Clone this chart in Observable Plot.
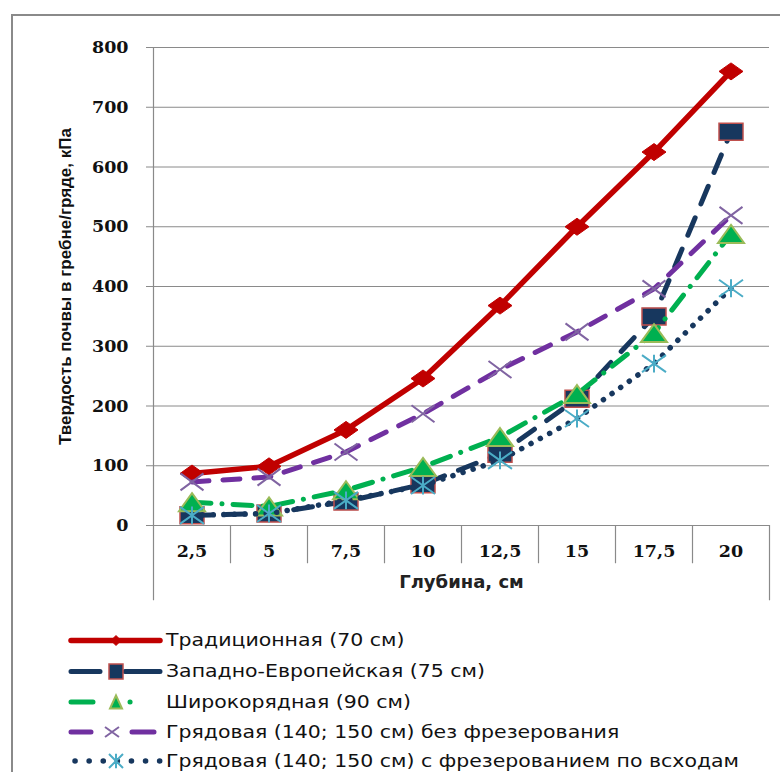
<!DOCTYPE html>
<html>
<head>
<meta charset="utf-8">
<script src="https://cdn.jsdelivr.net/npm/d3@7"></script>
<script src="https://cdn.jsdelivr.net/npm/@observablehq/plot@0.6"></script>
<style>
  html, body { margin: 0; padding: 0; background: #fff; }
  #wrap { position: relative; width: 780px; height: 772px; overflow: hidden; }
  #chart { position: absolute; left: 0; top: 0; }
  #legend { position: absolute; left: 0; top: 610px; }
  #frame { position: absolute; left: 11px; top: 14px; width: 780px; height: 800px;
           border-left: 2px solid #8a8a8a; border-top: 2px solid #8a8a8a; pointer-events: none; }
</style>
</head>
<body>
<div id="wrap">
  <div id="chart"></div>
  <div id="legend"></div>
  <div id="frame"></div>
</div>
<script>
// ---- data ----
const depths = ["2,5", "5", "7,5", "10", "12,5", "15", "17,5", "20"];
const traditional  = [87, 99, 160, 246, 368, 500, 625, 760];
const westEuropean = [17, 20, 40, 69, 120, 212, 350, 659];
const wideRow      = [39, 32, 59, 98, 148, 220, 322, 488];
const bedNoMill    = [73, 81, 123, 187, 261, 324, 396, 519];
const bedMill      = [17, 20, 42, 67, 109, 179, 271, 397];
const seriesNames = [
  "Традиционная (70 см)",
  "Западно-Европейская (75 см)",
  "Широкорядная (90 см)",
  "Грядовая (140; 150 см) без фрезерования",
  "Грядовая (140; 150 см) с фрезерованием по всходам"
];
const yTicks = [0, 100, 200, 300, 400, 500, 600, 700, 800];
const yTitle = "Твердость почвы в гребне/гряде, кПа";
const xTitle = "Глубина, см";

// ---- custom (wide) marker symbols ----
function symDiamond(hw, hh) { return { draw(ctx, size) { const k = Math.sqrt(size / Math.PI) / 8;
  ctx.moveTo(0, -hh * k); ctx.lineTo(hw * k, 0); ctx.lineTo(0, hh * k); ctx.lineTo(-hw * k, 0); ctx.closePath(); } }; }
function symSquare(hw, hh) { return { draw(ctx, size) { const k = Math.sqrt(size / Math.PI) / 8;
  ctx.moveTo(-hw * k, -hh * k); ctx.lineTo(hw * k, -hh * k); ctx.lineTo(hw * k, hh * k); ctx.lineTo(-hw * k, hh * k); ctx.closePath(); } }; }
function symTriangle(hw, hh) { return { draw(ctx, size) { const k = Math.sqrt(size / Math.PI) / 8;
  ctx.moveTo(0, -hh * k); ctx.lineTo(hw * k, hh * k); ctx.lineTo(-hw * k, hh * k); ctx.closePath(); } }; }
function symTimes(hw, hh) { return { draw(ctx, size) { const k = Math.sqrt(size / Math.PI) / 8;
  ctx.moveTo(-hw * k, -hh * k); ctx.lineTo(hw * k, hh * k); ctx.moveTo(hw * k, -hh * k); ctx.lineTo(-hw * k, hh * k); } }; }
function symStar(hw, hh) { return { draw(ctx, size) { const k = Math.sqrt(size / Math.PI) / 8;
  ctx.moveTo(-hw * k, -hh * k); ctx.lineTo(hw * k, hh * k); ctx.moveTo(hw * k, -hh * k); ctx.lineTo(-hw * k, hh * k);
  ctx.moveTo(0, -hh * k * 1.05); ctx.lineTo(0, hh * k * 1.05); } }; }

const styles = [
  { values: traditional,  stroke: "#C00000", width: 5.5, dash: null,          legDash: null,
    symbol: symDiamond(12, 8.5), fill: "#C00000", mstroke: "#C00000", mwidth: 1 },
  { values: westEuropean, stroke: "#17375E", width: 5,   dash: "19,15",       legDash: "29,25,35",
    symbol: symSquare(12, 8.5),  fill: "#17375E", mstroke: "#C0504D", mwidth: 1.5 },
  { values: wideRow,      stroke: "#00B050", width: 5,   dash: "19,11,0.1,11", legDash: "22,37,0.1,60",
    symbol: symTriangle(13, 9),  fill: "#00B050", mstroke: "#9BBB59", mwidth: 2 },
  { values: bedNoMill,    stroke: "#7030A0", width: 5,   dash: "17,14",       legDash: "20,41,22",
    symbol: symTimes(11.5, 8.5), fill: "none",    mstroke: "#8064A2", mwidth: 2 },
  { values: bedMill,      stroke: "#17375E", width: 5.5, dash: "0.1,10.5",    legDash: "0.1,14",
    symbol: symStar(12, 8.5),    fill: "none",    mstroke: "#4BACC6", mwidth: 2 }
];

const rows = styles.map((s, si) => depths.map((d, i) => ({ depth: d, value: s.values[i], series: seriesNames[si] })));

const width = 780, height = 610, marginLeft = 153, marginRight = 11, marginTop = 47, marginBottom = 85;
const bandW = (width - marginLeft - marginRight) / depths.length;
const gray = "#8a8a8a";

const marks = [
  Plot.gridY(yTicks, { stroke: gray, strokeOpacity: 1, strokeWidth: 1 }),
  Plot.axisY(yTicks, { tickSize: 7, tickPadding: 18, stroke: gray, label: null, tickFormat: d => String(d),
    fontFamily: "DejaVu Serif", fontWeight: "bold", fontSize: 17.5, fill: "#111" }),
  Plot.axisX({ tickSize: 0, tickPadding: 19, label: null,
    fontFamily: "DejaVu Serif", fontWeight: "bold", fontSize: 17.5, fill: "#111" }),
  // axis line and table-style category dividers
  Plot.ruleX([depths[0]], { x: d => d, y1: 800, y2: -126, dx: -bandW / 2, stroke: gray, strokeWidth: 1.2 }),
  Plot.ruleX([depths[depths.length - 1]], { x: d => d, y1: 0, y2: -126, dx: bandW / 2, stroke: gray, strokeWidth: 1.2 }),
  Plot.ruleX(depths.slice(1), { x: d => d, y1: 0, y2: -64, dx: -bandW / 2, stroke: gray, strokeWidth: 1.2 }),
  Plot.text([yTitle], { frameAnchor: "left", rotate: -90, dx: -88, text: d => d, textAnchor: "middle",
    fontFamily: "Liberation Sans", fontWeight: "bold", fontSize: 17, fill: "#111" }),
  Plot.text([xTitle], { frameAnchor: "bottom", dy: 62, text: d => d,
    fontFamily: "DejaVu Sans", fontWeight: "bold", fontSize: 18, fill: "#222" })
];
styles.forEach((s, si) => {
  marks.push(Plot.line(rows[si], { x: "depth", y: "value", stroke: s.stroke, strokeWidth: s.width,
    strokeDasharray: s.dash, strokeLinecap: "round", strokeLinejoin: "round" }));
  marks.push(Plot.dot(rows[si], { x: "depth", y: "value", symbol: s.symbol, r: 8, fill: s.fill,
    stroke: s.mstroke, strokeWidth: s.mwidth }));
});

const chart = Plot.plot({
  width, height, marginLeft, marginRight, marginTop, marginBottom,
  x: { type: "band", domain: depths, padding: 0, axis: null },
  y: { domain: [0, 800], axis: null },
  style: { background: "transparent", overflow: "visible" },
  marks
});
document.getElementById("chart").appendChild(chart);

// ---- legend ----
const leg = d3.select("#legend").append("svg").attr("width", 780).attr("height", 162);
const rowY = [30.5, 61.5, 92, 122, 151];
const legMarkers = [symDiamond(5, 5), symSquare(7, 7.5), symTriangle(6, 6.5), symTimes(7, 5), symStar(7, 7)];
styles.forEach((s, i) => {
  const g = leg.append("g").attr("transform", `translate(0,${rowY[i]})`);
  g.append("line").attr("x1", i === 4 ? 75 : 71).attr("x2", 160).attr("y1", 0).attr("y2", 0)
    .attr("stroke", s.stroke).attr("stroke-width", s.width).attr("stroke-linecap", "round")
    .attr("stroke-dasharray", s.legDash);
  g.append("path").attr("transform", `translate(${i === 3 ? 112 : 116},0)`)
    .attr("d", () => { const p = d3.path(); legMarkers[i].draw(p, Math.PI * 64); return p.toString(); })
    .attr("fill", s.fill).attr("stroke", s.mstroke).attr("stroke-width", s.mwidth);
  g.append("text").attr("transform", "translate(166,0) scale(1.17,1)").attr("dy", "0.33em")
    .attr("font-family", "DejaVu Sans").attr("font-size", 17.5).attr("fill", "#111")
    .text(seriesNames[i]);
});
</script>
</body>
</html>
